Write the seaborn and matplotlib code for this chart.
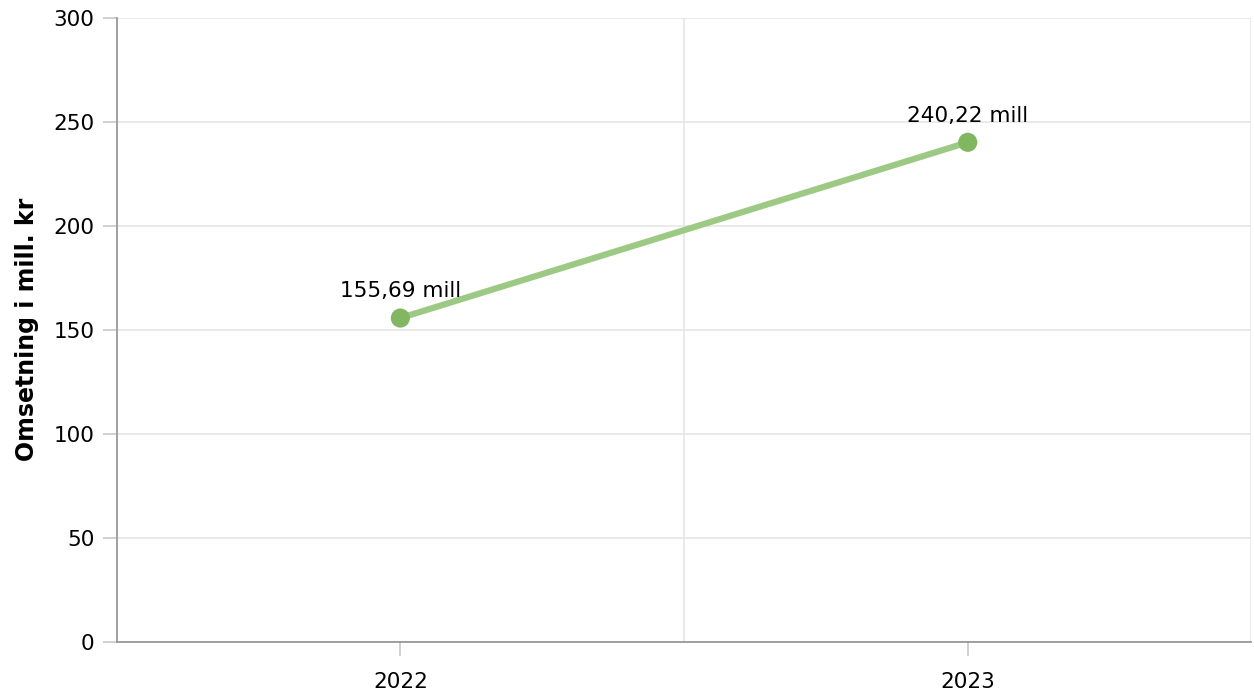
import pandas as pd
import numpy as np
import matplotlib.pyplot as plt
import seaborn as sns

# data
years = ['2022', '2023']
omsetning = [155.69, 240.22]
labels = ['155,69 mill', '240,22 mill']

df = pd.DataFrame({'year': years, 'value': omsetning})

sns.set_style('white')
plt.rcParams['font.family'] = ['DejaVu Sans']

fig, ax = plt.subplots(figsize=(12.54, 6.93), dpi=100)
fig.subplots_adjust(left=0.093, right=0.998, top=0.974, bottom=0.074)

# line + markers
sns.lineplot(data=df, x='year', y='value', color='#9cc983', linewidth=4.5,
             ax=ax, zorder=3)
sns.scatterplot(data=df, x='year', y='value', color='#82b761', s=190,
                edgecolor='none', ax=ax, zorder=4)

# value labels
for i, (v, lab) in enumerate(zip(omsetning, labels)):
    ax.annotate(lab, (i, v), xytext=(0, 12), textcoords='offset points',
                ha='center', va='bottom', fontsize=15.5, color='black')

# axes
ax.set_xlim(-0.5, 1.5)
ax.set_ylim(0, 300)
ax.set_yticks(np.arange(0, 301, 50))
ax.set_xticks(range(len(years)))
ax.set_xticklabels(years)
ax.set_xticks([0.5, 1.5], minor=True)

ax.grid(axis='y', color='#e6e6e6', linewidth=1.2)
ax.grid(axis='x', which='minor', color='#e6e6e6', linewidth=1.2)
ax.set_axisbelow(True)

for s in ['top', 'right']:
    ax.spines[s].set_visible(False)
for s in ['left', 'bottom']:
    ax.spines[s].set_color('#999999')
    ax.spines[s].set_linewidth(1.3)

ax.tick_params(axis='y', which='major', length=10, width=1.2, color='#c8c8c8',
               labelsize=15.5, labelcolor='black', pad=6, left=True)
ax.tick_params(axis='x', which='major', length=10, width=1.2, color='#c8c8c8',
               labelsize=15.5, labelcolor='black', pad=12, bottom=True)
ax.tick_params(axis='x', which='minor', length=0)

ax.set_xlabel('')
ax.set_ylabel('Omsetning i mill. kr', fontsize=17, fontweight='bold',
              color='black', labelpad=10)

plt.savefig('out.png', dpi=100)
